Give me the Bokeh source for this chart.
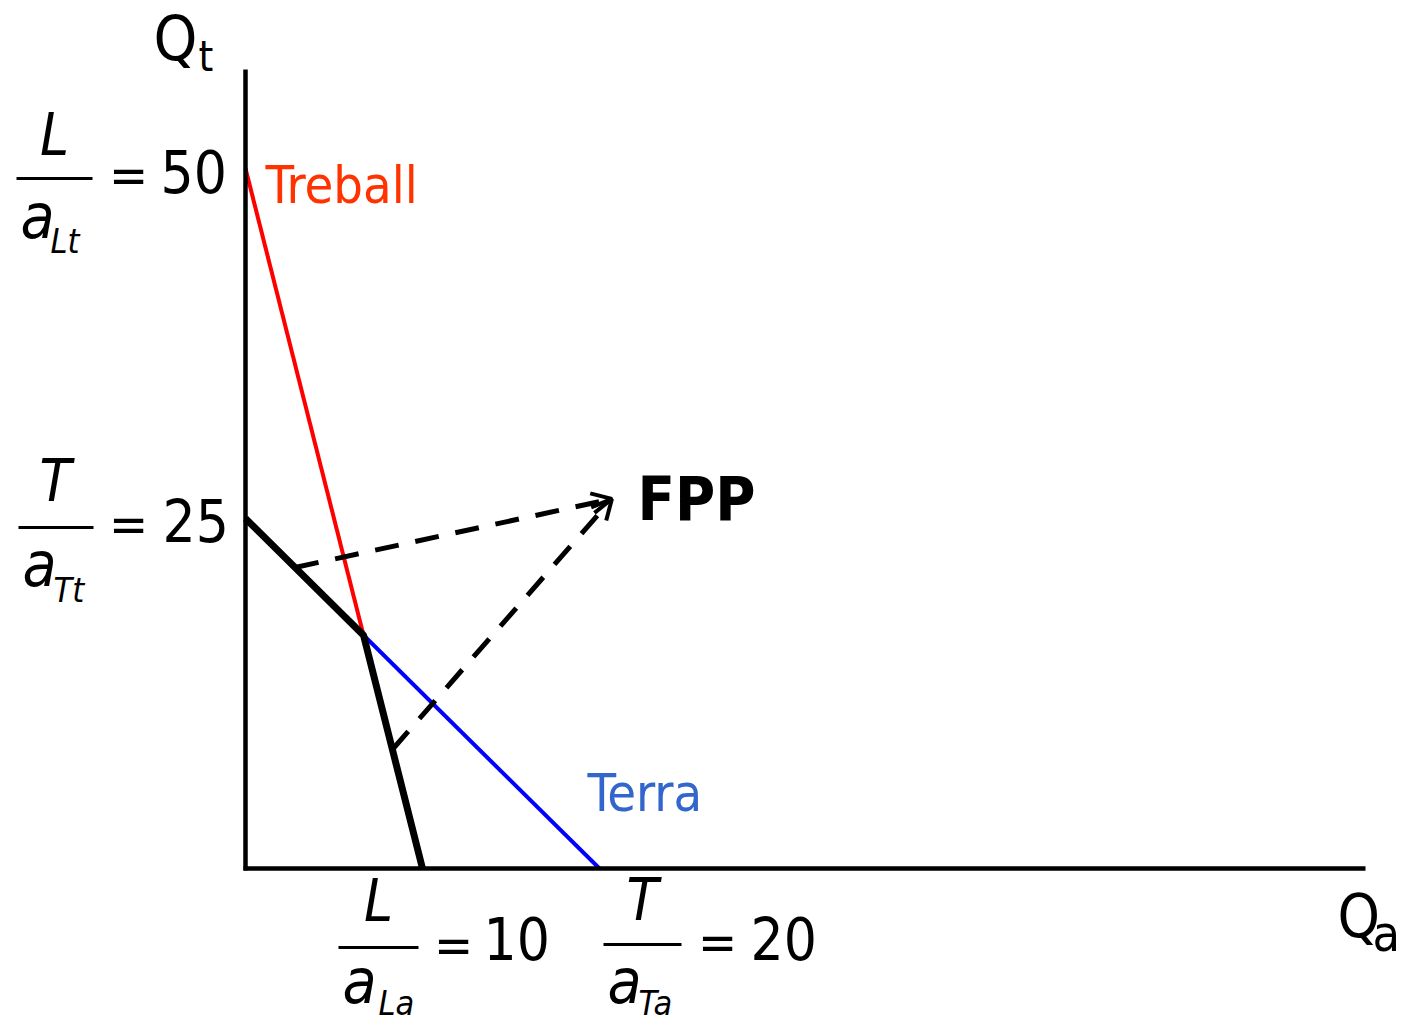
import numpy as np
from bokeh.plotting import figure
from bokeh.models import Arrow, OpenHead
from bokeh.core.properties import value
from bokeh.embed import file_html
from bokeh.resources import INLINE

# ---------------- data ----------------
treball_qa = [0, 10]      # Treball (labour) constraint: L/aLa = 10
treball_qt = [50, 0]      # L/aLt = 50
terra_qa = [0, 20]        # Terra (land) constraint: T/aTa = 20
terra_qt = [25, 0]        # T/aTt = 25
arrow_from_qa = [2.8, 8.3]    # points on the FPP where the dashed arrows start
arrow_tip = [20.7, 26.4]      # where the arrows point (next to the "FPP" label)
series_names = ["Treball", "Terra"]
axis_names = [("Q", "t"), ("Q", "a")]

# kink of the production possibility frontier (intersection of both constraints)
s_tr = (treball_qt[1] - treball_qt[0]) / (treball_qa[1] - treball_qa[0])
s_te = (terra_qt[1] - terra_qt[0]) / (terra_qa[1] - terra_qa[0])
kx = (terra_qt[0] - treball_qt[0]) / (s_tr - s_te)
ky = treball_qt[0] + s_tr * kx
fpp_qa = [0, kx, treball_qa[1]]
fpp_qt = [terra_qt[0], ky, 0]

# ---------------- layout ----------------
W, H = 1409, 1025
X0, Y0 = 245, 868       # pixel position of the origin
XS, YS = 17.7, 14.0     # pixels per unit
FONT = "DejaVu Sans Condensed"
BASE_K = 0.38           # baseline correction (fraction of font size)


def dx(sx):
    return (sx - X0) / XS


def dy(sy):
    return (Y0 - sy) / YS


p = figure(width=W, height=H, x_range=(dx(0), dx(W)), y_range=(dy(H), dy(0)),
           output_backend="svg", toolbar_location=None, min_border=0,
           x_axis_type=None, y_axis_type=None)
p.grid.visible = False
p.outline_line_color = None
p.background_fill_color = "white"
p.border_fill_color = "white"

# constraint lines
p.line(treball_qa, treball_qt, line_color="#ff0000", line_width=4)
p.line(terra_qa, terra_qt, line_color="#0000ff", line_width=4)
# FPP
p.line(fpp_qa, fpp_qt, line_color="black", line_width=7)

# axes
p.line([0, 0], [dy(870), dy(69)], line_color="black", line_width=4.5)
p.line([dx(243), dx(1365)], [0, 0], line_color="black", line_width=4.5)

# dashed arrows
for qa in arrow_from_qa:
    qt = float(np.interp(qa, fpp_qa, fpp_qt))
    p.add_layout(Arrow(end=OpenHead(size=20, line_width=4, line_color="black"),
                       x_start=qa, y_start=qt, x_end=arrow_tip[0], y_end=arrow_tip[1],
                       line_width=5, line_dash="24 17", line_color="black"))


def label(t, sx, sy, size, style="normal", color="black", align="left"):
    p.text(x=[dx(sx)], y=[dy(sy - BASE_K * size)], text=[t], text_font=value(FONT),
           text_font_size=value(f"{size}px"), text_font_style=style,
           text_color=color, text_align=align, text_baseline="alphabetic")


def bar(sx0, sx1, sy):
    p.segment(x0=[dx(sx0)], y0=[dy(sy)], x1=[dx(sx1)], y1=[dy(sy)],
              line_color="black", line_width=3)


def fraction(num, sub, val, nx, ny, bx0, bx1, by, ax, ay, sx, sy, ex, ey, vx, vy):
    label(num, nx, ny, 58, "italic", align="center")
    bar(bx0, bx1, by)
    label("a", ax, ay, 62, "italic")
    label(sub, sx, sy, 34, "italic")
    label("=", ex, ey, 52, align="center")
    label(str(val), vx, vy, 58)


# axis titles
label(axis_names[0][0], 153, 62, 62)
label(axis_names[0][1], 198, 72, 42)
label(axis_names[1][0], 1337, 938, 60)
label(axis_names[1][1], 1372, 952, 50)

# intercept labels
fraction("L", "Lt", treball_qt[0], 54, 157, 16, 92, 178, 20, 240, 50, 253, 128, 194, 160, 193)
fraction("T", "Tt", terra_qt[0], 55, 503, 18, 93, 527, 22, 588, 53, 602, 128, 543, 162, 542)
fraction("L", "La", treball_qa[1], 378, 923, 338, 418, 947, 342, 1005, 378, 1015, 453, 964, 483, 960)
fraction("T", "Ta", terra_qa[1], 642, 922, 603, 681, 944, 607, 1005, 638, 1015, 717, 961, 750, 960)

# series labels
label(series_names[0], 265, 204, 52, color="#ff3300")
label(series_names[1], 587, 812, 52, color="#3366cc")
label("FPP", 637, 521, 61, "bold")

open("out.html", "w").write(file_html(p, INLINE))
